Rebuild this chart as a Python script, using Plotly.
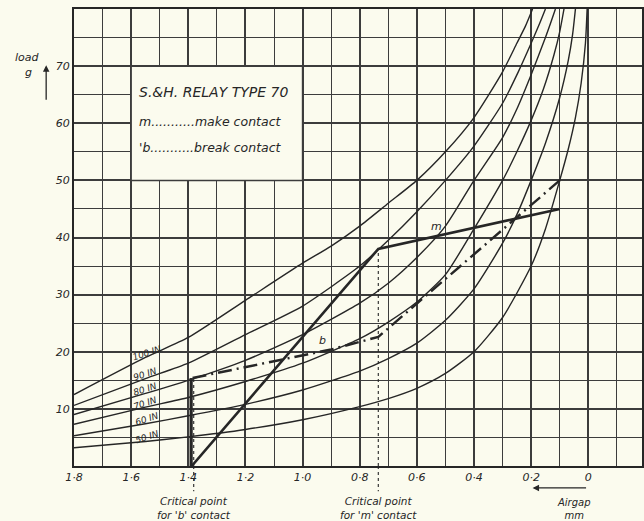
import plotly.graph_objects as go

# ---------------- data ----------------
curve_names = ["100 IN", "90 IN", "80 IN", "70 IN", "60 IN", "50 IN"]

gap_100 = [1.8, 1.55, 1.4, 1.2, 1.0, 0.9, 0.8, 0.7, 0.6, 0.5, 0.4, 0.3, 0.25, 0.22, 0.195]
load_100 = [12.5, 19.0, 22.5, 29.0, 35.5, 38.5, 42.0, 46.0, 50.0, 55.0, 61.0, 69.0, 74.0, 77.0, 80.0]

gap_90 = [1.8, 1.55, 1.4, 1.2, 1.0, 0.8, 0.7, 0.6, 0.5, 0.4, 0.3, 0.245, 0.2, 0.17, 0.15]
load_90 = [10.6, 15.3, 18.0, 23.0, 28.0, 35.0, 39.5, 44.5, 50.0, 56.0, 63.5, 69.0, 74.0, 77.5, 80.0]

gap_80 = [1.8, 1.55, 1.4, 1.2, 1.0, 0.8, 0.7, 0.6, 0.5, 0.4, 0.3, 0.25, 0.2, 0.15, 0.13, 0.115]
load_80 = [9.0, 12.7, 15.0, 18.5, 23.0, 28.5, 32.0, 36.5, 42.0, 50.0, 57.5, 62.5, 68.5, 75.0, 77.8, 80.0]

gap_70 = [1.8, 1.55, 1.4, 1.2, 1.0, 0.8, 0.7, 0.6, 0.5, 0.4, 0.3, 0.25, 0.2, 0.157, 0.12, 0.1, 0.085]
load_70 = [7.3, 10.3, 12.0, 14.8, 18.0, 22.3, 25.2, 28.7, 33.5, 41.5, 50.0, 55.0, 60.5, 66.0, 72.0, 76.0, 80.0]

gap_60 = [1.8, 1.55, 1.4, 1.2, 1.0, 0.8, 0.7, 0.6, 0.5, 0.4, 0.3, 0.25, 0.2, 0.15, 0.1, 0.07, 0.055, 0.045]
load_60 = [5.3, 7.4, 8.8, 10.8, 13.3, 16.6, 18.8, 21.5, 25.5, 31.0, 39.0, 44.0, 50.0, 56.5, 64.5, 71.0, 75.5, 80.0]

gap_50 = [1.8, 1.55, 1.4, 1.2, 1.0, 0.8, 0.7, 0.6, 0.5, 0.4, 0.3, 0.2, 0.15, 0.1, 0.07, 0.045, 0.025, 0.01, 0.004]
load_50 = [3.2, 4.3, 5.1, 6.4, 8.1, 10.4, 11.8, 13.6, 16.2, 20.0, 26.0, 35.0, 41.5, 50.0, 55.5, 61.0, 67.0, 74.0, 80.0]

# make contact characteristic (m)
m_gap = [1.388, 0.735, 0.1]
m_load = [0.0, 38.0, 45.0]

# break contact characteristic (b)
b_vert_gap = [1.39, 1.39]
b_vert_load = [0.0, 15.4]
b_gap = [1.385, 0.9, 0.735, 0.1]
b_load = [15.4, 20.4, 22.6, 50.0]

critical_b_gap = 1.381
critical_m_gap = 0.735
critical_m_load = 38.0

# curve label anchor points (gap, load)
label_gap = [1.545, 1.55, 1.55, 1.55, 1.545, 1.545]
label_load = [19.8, 16.1, 13.5, 11.1, 8.2, 5.1]

x_tickvals = [1.8, 1.6, 1.4, 1.2, 1.0, 0.8, 0.6, 0.4, 0.2, 0.0]
x_ticktext = ["1·8", "1·6", "1·4", "1·2", "1·0", "0·8", "0·6", "0·4", "0·2", "0"]
y_tickvals = [0, 10, 20, 30, 40, 50, 60, 70, 80]
y_ticktext = ["", "10", "20", "30", "40", "50", "60", "70", ""]

# ---------------- styling ----------------
INK = "#262626"
GRID = "#3c3c3c"
PAPER = "#fbfbee"
FONT = "DejaVu Sans"

fig = go.Figure()

curves = [(gap_100, load_100), (gap_90, load_90), (gap_80, load_80),
          (gap_70, load_70), (gap_60, load_60), (gap_50, load_50)]
for name, (gx, ly) in zip(curve_names, curves):
    fig.add_trace(go.Scatter(x=gx, y=ly, mode="lines", name=name,
                             line=dict(color=INK, width=1.4, shape="spline", smoothing=0.6),
                             hoverinfo="skip"))

# critical dotted lines inside plot
fig.add_trace(go.Scatter(x=[critical_m_gap, critical_m_gap], y=[0, critical_m_load], mode="lines",
                         line=dict(color=INK, width=1.1, dash="dot"), hoverinfo="skip"))
fig.add_trace(go.Scatter(x=[critical_b_gap, critical_b_gap], y=[0, b_load[0]], mode="lines",
                         line=dict(color=INK, width=1.1, dash="dot"), hoverinfo="skip"))

# m line
fig.add_trace(go.Scatter(x=m_gap, y=m_load, mode="lines",
                         line=dict(color=INK, width=2.6), hoverinfo="skip"))
# b line
fig.add_trace(go.Scatter(x=b_vert_gap, y=b_vert_load, mode="lines",
                         line=dict(color=INK, width=3.2), hoverinfo="skip"))
fig.add_trace(go.Scatter(x=b_gap, y=b_load, mode="lines",
                         line=dict(color=INK, width=2.4, dash="14px,5px,2px,5px"), hoverinfo="skip"))

# legend box
fig.add_shape(type="rect", xref="x", yref="y", x0=1.6, x1=1.0, y0=50, y1=70,
              fillcolor=PAPER, line=dict(color=GRID, width=1.5), layer="above")

# dotted continuation below axis
for gx in [critical_b_gap, critical_m_gap]:
    fig.add_shape(type="line", xref="x", yref="paper", x0=gx, x1=gx, y0=0, y1=-0.055,
                  line=dict(color=INK, width=1.1, dash="dot"))

ann_font = dict(family=FONT, size=12.5, color=INK, style="italic")
lbl_font = dict(family=FONT, size=11, color=INK, style="italic")
small_font = dict(family=FONT, size=9, color=INK, style="italic")
bottom_font = dict(family=FONT, size=10.5, color=INK, style="italic")

annotations = [
    dict(x=1.578, y=65.4, xref="x", yref="y", text="S.&H. RELAY TYPE 70", showarrow=False,
         xanchor="left", font=dict(family=FONT, size=14, color=INK, style="italic")),
    dict(x=1.578, y=60.3, xref="x", yref="y", text="m...........make contact", showarrow=False,
         xanchor="left", font=ann_font),
    dict(x=1.578, y=55.8, xref="x", yref="y", text="'b...........break contact", showarrow=False,
         xanchor="left", font=ann_font),
    dict(x=0.53, y=41.9, xref="x", yref="y", text="m", showarrow=False, font=lbl_font),
    dict(x=0.93, y=21.9, xref="x", yref="y", text="b", showarrow=False, font=lbl_font),
    dict(x=critical_b_gap, y=-0.058, xref="x", yref="paper", text="Critical point<br>for 'b' contact",
         showarrow=False, yanchor="top", font=bottom_font),
    dict(x=critical_m_gap, y=-0.058, xref="x", yref="paper", text="Critical point<br>for 'm' contact",
         showarrow=False, yanchor="top", font=bottom_font),
    dict(x=0.05, y=-0.063, xref="x", yref="paper", text="Airgap<br>mm",
         showarrow=False, yanchor="top", font=dict(family=FONT, size=10, color=INK, style="italic")),
    # airgap arrow
    dict(x=0.195, y=-0.048, xref="x", yref="paper", ax=55, ay=0, text="", showarrow=True,
         arrowhead=2, arrowsize=1, arrowwidth=1.3, arrowcolor=INK),
    # load label and arrow
    dict(x=-0.081, y=0.893, xref="paper", yref="paper", text="load", showarrow=False,
         xanchor="center", yanchor="middle", font=dict(family=FONT, size=11, color=INK, style="italic")),
    dict(x=-0.08, y=0.862, xref="paper", yref="paper", text="g", showarrow=False,
         xanchor="center", yanchor="middle", font=dict(family=FONT, size=11, color=INK, style="italic")),
    dict(x=-0.049, y=0.877, xref="paper", yref="paper", ax=0, ay=36, text="", showarrow=True,
         arrowhead=2, arrowsize=1, arrowwidth=1.3, arrowcolor=INK),
]
for name, gx, ly in zip(curve_names, label_gap, label_load):
    annotations.append(dict(x=gx, y=ly, xref="x", yref="y", text=name, showarrow=False,
                            textangle=-18, font=small_font))

fig.update_layout(
    width=644, height=521,
    margin=dict(l=74, r=0, t=9, b=55),
    paper_bgcolor=PAPER, plot_bgcolor=PAPER,
    showlegend=False,
    annotations=annotations,
    font=dict(family=FONT, color=INK),
)
fig.update_xaxes(range=[1.8, -0.188], tickmode="array", tickvals=x_tickvals, ticktext=x_ticktext,
                 showgrid=True, gridcolor=GRID, gridwidth=1.5,
                 minor=dict(dtick=0.1, tick0=0, showgrid=True, gridcolor=GRID, gridwidth=0.9),
                 showline=True, linecolor=INK, linewidth=2, mirror=True, zeroline=False,
                 ticks="", tickfont=dict(family=FONT, size=11, color=INK, style="italic"))
fig.update_yaxes(range=[0, 80], tickmode="array", tickvals=y_tickvals, ticktext=y_ticktext,
                 showgrid=True, gridcolor=GRID, gridwidth=1.5,
                 minor=dict(dtick=5, tick0=0, showgrid=True, gridcolor=GRID, gridwidth=0.9),
                 showline=True, linecolor=INK, linewidth=2, mirror=True, zeroline=False,
                 ticks="", tickfont=dict(family=FONT, size=11, color=INK, style="italic"))

fig.write_html("out.html", config={"displayModeBar": False},
               post_script="document.body.style.margin='0';")
